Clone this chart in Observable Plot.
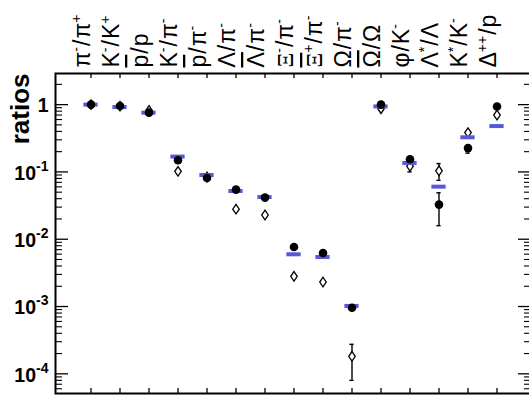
<!DOCTYPE html>
<html><head><meta charset="utf-8">
<script src="https://cdn.jsdelivr.net/npm/d3@7"></script>
<script src="https://cdn.jsdelivr.net/npm/@observablehq/plot@0.6"></script>
<style>body{margin:0;background:#fff}</style>
</head><body><div id="chart"></div>
<script>
// markup: "~" = overline on next glyph, "^x" or "^{..}" = superscript
const categories = ["π^-/π^+","K^-/K^+","~p/p","K^-/π^-","~p/π^-","Λ/π^-","~Λ/π^-","Ξ^-/π^-","~Ξ^+/π^-","Ω/π^-","~Ω/Ω","φ/K^-","Λ^*/Λ","K^*/K^-","Δ^{++}/p"];
const model   = [1.0, 0.92, 0.76, 0.169, 0.090, 0.052, 0.0424, 0.00597, 0.00544, 0.00102, 0.94, 0.136, 0.0604, 0.327, 0.48];
const dataA   = [1.0, 0.953, 0.76, 0.149, 0.081, 0.0546, 0.0415, 0.00766, 0.00624, 0.00096, 1.0, 0.154, 0.0327, 0.226, 0.94];
const dataALo = [null,null,null,null,null,null,null,null,null,null,null,null,0.0159,0.19,null];
const dataAHi = [null,null,null,null,null,null,null,null,null,null,null,null,0.049,0.24,null];
const dataB   = [1.0, 0.95, 0.82, 0.102, 0.084, 0.028, 0.0229, 0.00281, 0.00231, 0.000182, 0.87, 0.121, 0.104, 0.384, 0.70];
const dataBLo = [null,null,null,null,null,null,null,null,null,0.000080,null,0.100,0.075,null,null];
const dataBHi = [null,null,null,null,null,null,null,null,null,0.000274,null,0.143,0.133,null,null];
const yMajor = [1, 0.1, 0.01, 0.001, 0.0001];
const yTickLabels = ["1", "10^{-1}", "10^{-2}", "10^{-3}", "10^{-4}"];
const yDomain = [5.1e-5, 2.9];

const rows = categories.map((c, i) => ({cat: c, model: model[i], a: dataA[i], aLo: dataALo[i], aHi: dataAHi[i], b: dataB[i], bLo: dataBLo[i], bHi: dataBHi[i]}));
const errA = rows.filter(d => d.aLo != null);
const errB = rows.filter(d => d.bLo != null);
const yMinor = [];
for (const m of [10, 1, 0.1, 0.01, 0.001, 0.0001]) for (let k = 2; k <= 9; k++) { const v = k * m / 10; if (v >= yDomain[0] && v <= yDomain[1]) yMinor.push(v); }

const W = 529, H = 399, mL = 55, mR = -2, mT = 73, mB = 6;
const innerW = W - mL - mR, innerH = H - mT - mB;
const bw = innerW / 16;

const tallDiamond = {draw(ctx, size) { const r = Math.sqrt(size / Math.PI); const w = r * 0.68; ctx.moveTo(0, -r); ctx.lineTo(w, 0); ctx.lineTo(0, r); ctx.lineTo(-w, 0); ctx.closePath(); }};

const plot = Plot.plot({
  width: W, height: H, marginLeft: mL, marginRight: mR, marginTop: mT, marginBottom: mB,
  style: {fontFamily: "'Liberation Sans', Arial, Helvetica, sans-serif", background: "white", overflow: "hidden"},
  x: {type: "band", domain: categories, paddingInner: 0, paddingOuter: 0.5, axis: null},
  y: {type: "log", domain: yDomain, axis: null},
  marks: [
    Plot.ruleX(categories, {x: d => d, insetTop: innerH - 5, stroke: "black", strokeWidth: 1.3}),
    Plot.ruleX(categories, {x: d => d, insetBottom: innerH - 5, stroke: "black", strokeWidth: 1.3}),
    Plot.ruleY(yMajor, {y: d => d, insetRight: innerW - 13, stroke: "black", strokeWidth: 1.3}),
    Plot.ruleY(yMinor, {y: d => d, insetRight: innerW - 7, stroke: "black", strokeWidth: 1.1}),
    Plot.ruleY(yMajor, {y: d => d, insetLeft: innerW - 13, stroke: "black", strokeWidth: 1.3}),
    Plot.ruleY(yMinor, {y: d => d, insetLeft: innerW - 7, stroke: "black", strokeWidth: 1.1}),
    Plot.ruleX(errB, {x: "cat", y1: "bLo", y2: "bHi", stroke: "black", strokeWidth: 1.4}),
    Plot.tickY(errB, {x: "cat", y: "bLo", insetLeft: (bw - 5) / 2, insetRight: (bw - 5) / 2, stroke: "black", strokeWidth: 1.4}),
    Plot.tickY(errB, {x: "cat", y: "bHi", insetLeft: (bw - 5) / 2, insetRight: (bw - 5) / 2, stroke: "black", strokeWidth: 1.4}),
    Plot.dot(rows, {x: "cat", y: "b", symbol: tallDiamond, r: 4.8, fill: "white", stroke: "black", strokeWidth: 1.3}),
    Plot.tickY(rows, {x: "cat", y: "model", stroke: "#5858da", strokeWidth: 4, insetLeft: (bw - 15) / 2, insetRight: (bw - 15) / 2}),
    Plot.ruleX(errA, {x: "cat", y1: "aLo", y2: "aHi", stroke: "black", strokeWidth: 1.4}),
    Plot.tickY(errA, {x: "cat", y: "aLo", insetLeft: (bw - 5) / 2, insetRight: (bw - 5) / 2, stroke: "black", strokeWidth: 1.4}),
    Plot.tickY(errA, {x: "cat", y: "aHi", insetLeft: (bw - 5) / 2, insetRight: (bw - 5) / 2, stroke: "black", strokeWidth: 1.4}),
    Plot.dot(rows, {x: "cat", y: "a", r: 4.3, fill: "black"}),
    Plot.frame({stroke: "black", strokeWidth: 2}),
    Plot.text(yMajor, {y: d => d, text: (d, i) => yTickLabels[i], frameAnchor: "left", textAnchor: "end", dx: -7, dy: 1.5, fontSize: 19.5, fontWeight: "bold", fill: "black"}),
    Plot.text(categories, {x: d => d, text: d => d, frameAnchor: "top", rotate: -90, textAnchor: "start", lineAnchor: "bottom", dy: -6, dx: -1, fontSize: 23, fill: "black"}),
    Plot.text(["ratios"], {text: d => d, frameAnchor: "top-left", rotate: -90, textAnchor: "end", lineAnchor: "bottom", dx: -27, fontSize: 26, fontWeight: "bold", fill: "black"})
  ]
});

// rich text: superscripts, overlines, serif Ξ, wide slash
function parseMarkup(s) {
  const out = []; let i = 0;
  while (i < s.length) {
    const ch = s[i];
    if (ch === "^") {
      let sup;
      if (s[i + 1] === "{") { const j = s.indexOf("}", i); sup = s.slice(i + 2, j); i = j + 1; }
      else { sup = s[i + 1]; i += 2; }
      out.push({t: sup, sup: true});
    } else if (ch === "~") { out.push({t: s[i + 1], over: true}); i += 2; }
    else { out.push({t: ch}); i += 1; }
  }
  return out;
}
d3.select(plot).selectAll("text").each(function() {
  const el = this; const s = el.textContent;
  if (!/[\^~]/.test(s)) return;
  const fs = parseFloat(getComputedStyle(el).fontSize) || 20;
  const shift = fs * 0.45;
  const parts = parseMarkup(s);
  const sel = d3.select(el); sel.text(null);
  let raised = false, afterSlash = false;
  for (const p of parts) {
    const ts = sel.append("tspan").text(p.t);
    let dy = 0;
    if (p.sup) { ts.attr("font-size", fs * 0.7); if (!raised) { dy = -shift; raised = true; } }
    else if (raised) { dy = shift; raised = false; }
    if (dy) ts.attr("dy", dy);
    if (p.t === "/" || afterSlash) ts.attr("dx", fs * 0.05);
    afterSlash = p.t === "/";
    if (p.over) ts.style("text-decoration", "overline");
    if (p.t === "Ξ") ts.attr("font-family", "'Liberation Serif', 'Times New Roman', serif");
  }
});
document.getElementById("chart").append(plot);
</script></body></html>
